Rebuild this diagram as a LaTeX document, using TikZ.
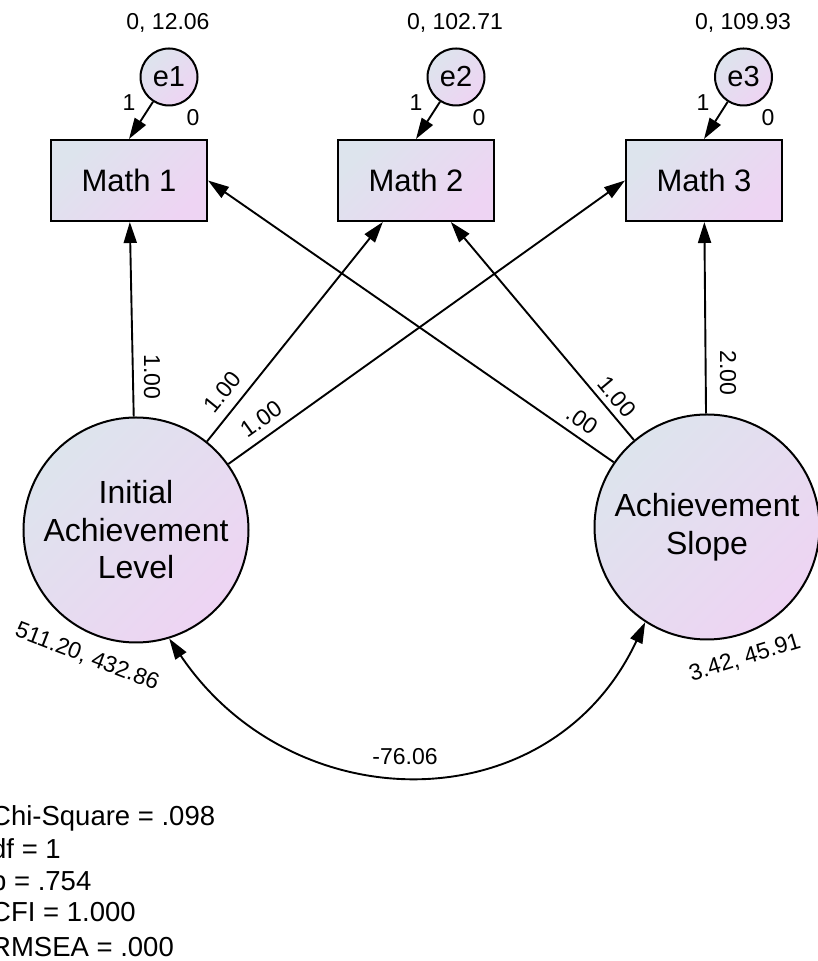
\documentclass[tikz,border=0pt]{standalone}
\usepackage{fontspec}
\setmainfont{Liberation Sans}
\usetikzlibrary{arrows.meta}
\definecolor{shadeA}{RGB}{221,228,237}
\definecolor{shadeB}{RGB}{238,212,243}
\begin{document}
\begin{tikzpicture}[x=1pt,y=1pt,
  shaded/.style={draw=black, line width=2pt, top color=shadeA, bottom color=shadeB, shading angle=45},
  obs/.style={shaded, rectangle, minimum width=156pt, minimum height=81pt, inner sep=0pt,
              font=\fontsize{31}{36}\selectfont},
  err/.style={shaded, circle, minimum size=57pt, inner sep=0pt, font=\fontsize{29}{34}\selectfont},
  lat/.style={shaded, circle, minimum size=225pt, inner sep=0pt, align=center,
              font=\fontsize{32}{37.5}\selectfont},
  tip/.tip={Triangle[length=21pt,width=13pt]},
  regpath/.style={line width=1.9pt, -tip},
  covpath/.style={line width=1.9pt, tip-tip},
  lbl/.style={font=\fontsize{23}{27}\selectfont, inner sep=0pt},
  fitline/.style={font=\fontsize{27.5}{32}\selectfont, inner sep=0pt, anchor=base west}
]
\useasboundingbox (0,0) rectangle (817,961);

% observed variables
\node[obs] (m1) at (129,780.5) {Math 1};
\node[obs] (m2) at (416,780.5) {Math 2};
\node[obs] (m3) at (704,780.5) {Math 3};

% error terms
\node[err] (e1) at (169,884) {e1};
\node[err] (e2) at (456,884) {e2};
\node[err] (e3) at (743.5,884) {e3};

% latent growth factors
\node[lat] (L) at (136,431) {Initial\\Achievement\\Level};
\node[lat] (R) at (707,434) {Achievement\\Slope};

% error variances and loadings
\node[lbl] (v1) at (168,938) {0, 12.06};
\node[lbl] (v2) at (455,938) {0, 102.71};
\node[lbl] (v3) at (743,938) {0, 109.93};
\node[lbl] (o1) at (129,858) {1};
\node[lbl] (o2) at (416,858) {1};
\node[lbl] (o3) at (703,858) {1};
\node[lbl] (z1) at (193,843) {0};
\node[lbl] (z2) at (479,843) {0};
\node[lbl] (z3) at (768,843) {0};

\draw[regpath] (e1) -- (m1.north);
\draw[regpath] (e2) -- (m2.north);
\draw[regpath] (e3) -- (m3.north);

% factor loadings
\draw[regpath] (L) -- (m1);
\draw[regpath] (L) -- (m2);
\draw[regpath] (L) -- (m3.west);
\draw[regpath] (R) -- (m1.east);
\draw[regpath] (R) -- (m2);
\draw[regpath] (R) -- (m3);

\node[lbl, rotate=-90] (w1) at (152,584) {1.00};
\node[lbl, rotate=51]  (w2) at (222,569) {1.00};
\node[lbl, rotate=35.6] (w3) at (261,542) {1.00};
\node[lbl, rotate=-34.8] (w4) at (582,541) {.00};
\node[lbl, rotate=-50] (w5) at (617,564) {1.00};
\node[lbl, rotate=-90] (w6) at (728,588) {2.00};

% factor means and variances
\node[lbl, rotate=-21] (fL) at (87,304) {511.20, 432.86};
\node[lbl, rotate=17]  (fR) at (745,303) {3.42, 45.91};

% factor covariance
\draw[covpath] (L.-73) .. controls +(-56:222) and +(-115:222) .. (R.-123);
\node[lbl] (cov) at (405,204) {-76.06};

% fit statistics
\node[fitline] (f1) at (-9,135) {Chi-Square = .098};
\node[fitline] (f2) at (-9,102) {df = 1};
\node[fitline] (f3) at (-9,70) {p = .754};
\node[fitline] (f4) at (-9,39) {CFI = 1.000};
\node[fitline] (f5) at (-9,5) {RMSEA = .000};
\end{tikzpicture}
\end{document}
